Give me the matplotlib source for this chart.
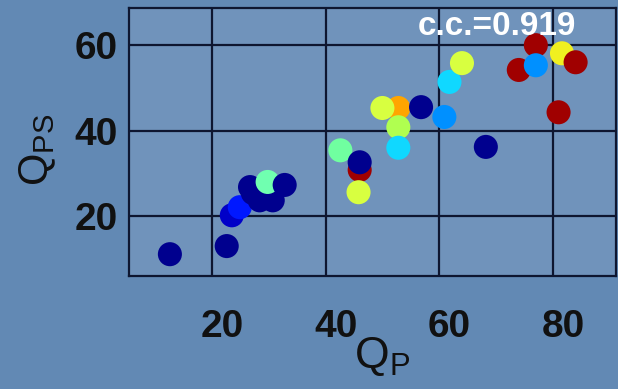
import matplotlib
matplotlib.use('Agg')
import matplotlib.pyplot as plt
from matplotlib.transforms import ScaledTranslation

plt.rcParams['font.family'] = ['Liberation Sans', 'DejaVu Sans']
plt.rcParams['mathtext.fontset'] = 'custom'
plt.rcParams['mathtext.rm'] = 'Liberation Sans'

# data (drawing order matters for overlaps)
qp = [12.6, 22.6, 23.5, 24.9, 26.7, 27.2, 28.4, 30.7, 29.8, 32.8,
      42.6, 46.0, 46.0, 45.8, 52.8, 50.0, 52.8, 52.8, 56.8, 60.9,
      61.8, 64.0, 68.2, 74.0, 77.0, 77.0, 81.6, 84.0, 81.0]
qps = [11.1, 13.0, 20.2, 22.1, 26.8, 25.4, 23.7, 23.7, 28.0, 27.3,
       35.4, 30.8, 32.6, 25.6, 45.3, 45.3, 40.8, 36.0, 45.5, 43.2,
       51.4, 55.8, 36.2, 54.2, 60.0, 55.3, 58.1, 56.0, 44.3]
colors = ['#00008E', '#00008E', '#0000C8', '#0018FF', '#00008E', '#00008E', '#00008E', '#00008E', '#70FFB0', '#00008E',
          '#70FFA0', '#A00000', '#00008E', '#D8FF40', '#FFA500', '#D8FF40', '#B0FF50', '#10D8FF', '#00008E', '#0090FF',
          '#10D8FF', '#D8FF40', '#00008E', '#A00000', '#A00000', '#0090FF', '#F0F020', '#A00000', '#A00000']
xticks = [20, 40, 60, 80]
yticks = [20, 40, 60]
cc_text = 'c.c.=0.919'

fig = plt.figure(figsize=(6.18, 3.89), dpi=100)
fig.patch.set_facecolor('#6289B4')
ax = fig.add_axes([0.2087, 0.2905, 0.788, 0.689])
ax.set_facecolor('#7093BB')

ax.scatter(qp, qps, s=300, c=colors, edgecolors='none', zorder=3)

ax.set_xlim(5.4, 91.1)
ax.set_ylim(6.0, 68.7)
ax.set_xticks(xticks)
ax.set_yticks(yticks)
ax.grid(True, color='#0E1630', linewidth=1.6)
ax.set_axisbelow(True)
for sp in ax.spines.values():
    sp.set_color('#0E1630')
    sp.set_linewidth(1.6)

ax.tick_params(length=0, labelsize=28, pad=8)
ax.tick_params(axis='x', pad=24)
for lab in ax.get_xticklabels() + ax.get_yticklabels():
    lab.set_fontweight('bold')
    lab.set_color('#111111')
for lab in ax.get_xticklabels():
    lab.set_transform(lab.get_transform() + ScaledTranslation(10 / 100, 0, fig.dpi_scale_trans))

ax.text(0.593, 0.93, cc_text, transform=ax.transAxes, color='white',
        fontsize=24, fontweight='bold', ha='left', va='center')

fig.text(382 / 618, 1 - 356 / 389, r'$\mathregular{Q_P}$', fontsize=32,
         color='#111111', ha='center', va='center')
fig.text(38 / 618, 1 - 150 / 389, r'$\mathregular{Q_{PS}}$', fontsize=30,
         color='#111111', ha='center', va='center', rotation=90)

fig.savefig('out.png', dpi=100, facecolor=fig.get_facecolor())
